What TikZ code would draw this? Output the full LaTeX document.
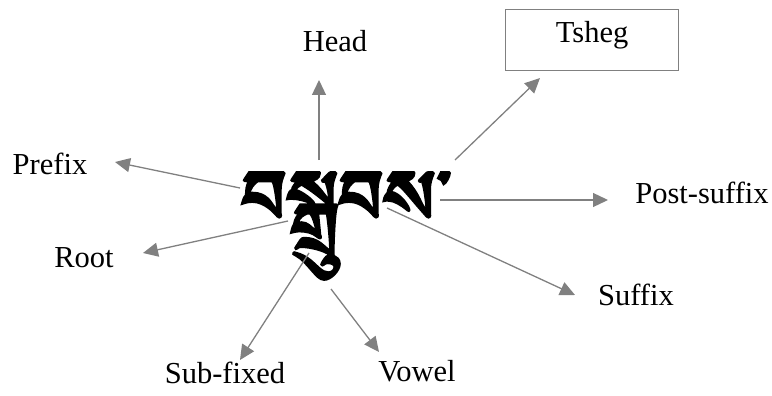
\documentclass[tikz,border=0pt]{standalone}
\usepackage{fontspec}
\setmainfont{Liberation Serif}
\IfFontExistsTF{Jomolhari}{\newfontfamily\tib[Script=Tibetan,FakeBold=3]{Jomolhari}}{%
 \IfFontExistsTF{Tibetan Machine Uni}{\newfontfamily\tib[Script=Tibetan,FakeBold=3]{Tibetan Machine Uni}}{%
  \IfFontExistsTF{FreeSerif}{\newfontfamily\tib[Script=Tibetan,FakeBold=3]{FreeSerif}}{%
   \newfontfamily\tib{DejaVu Sans}}}}
\usetikzlibrary{arrows.meta}
\definecolor{lgray}{HTML}{808080}
\tikzset{
  lbl/.style={font=\fontsize{30.5}{34}\selectfont, inner sep=0pt, anchor=base},
  arr/.style={draw=lgray, line width=1.3pt, -{Triangle[length=15pt,width=14pt]}, color=lgray},
}
\begin{document}
\begin{tikzpicture}[x=1pt,y=-1pt]
\useasboundingbox (0,0) rectangle (772,396);
\node[font=\fontsize{95}{105}\selectfont\tib, inner sep=0pt, anchor=center] (word) at (346,226) {བསྒྲུབས་};
\node[lbl] (head) at (335,52) {Head};
\node[draw=lgray, line width=1.2pt, minimum width=173pt, minimum height=61pt, inner sep=0pt, font=\fontsize{30.5}{34}\selectfont, text height=21pt, text depth=16pt, anchor=north west] (tsheg) at (505,9) {Tsheg};
\node[lbl] (prefix) at (50,175) {Prefix};
\node[lbl] (root) at (84,267) {Root};
\node[lbl] (post) at (702,203) {Post-suffix};
\node[lbl] (suffix) at (636,305) {Suffix};
\node[lbl] (sub) at (225,383) {Sub-fixed};
\node[lbl] (vowel) at (417,381) {Vowel};
\coordinate (sHead) at (319,160);
\coordinate (tHead) at (319,80);
\coordinate (sTsheg) at (455,160);
\coordinate (tTsheg) at (540,78);
\coordinate (sPost) at (440,200);
\coordinate (tPost) at (608,200);
\coordinate (sPrefix) at (240,188);
\coordinate (tPrefix) at (115,162);
\coordinate (sRoot) at (288,221);
\coordinate (tRoot) at (143,253);
\coordinate (sSub) at (309,253);
\coordinate (tSub) at (240,360);
\coordinate (sVowel) at (331,289);
\coordinate (tVowel) at (379,352);
\coordinate (sSuffix) at (387,208);
\coordinate (tSuffix) at (575,295);
\draw[arr] (sHead) -- (tHead);
\draw[arr] (sTsheg) -- (tTsheg);
\draw[arr] (sPost) -- (tPost);
\draw[arr] (sPrefix) -- (tPrefix);
\draw[arr] (sRoot) -- (tRoot);
\draw[arr] (sSub) -- (tSub);
\draw[arr] (sVowel) -- (tVowel);
\draw[arr] (sSuffix) -- (tSuffix);
\end{tikzpicture}
\end{document}
